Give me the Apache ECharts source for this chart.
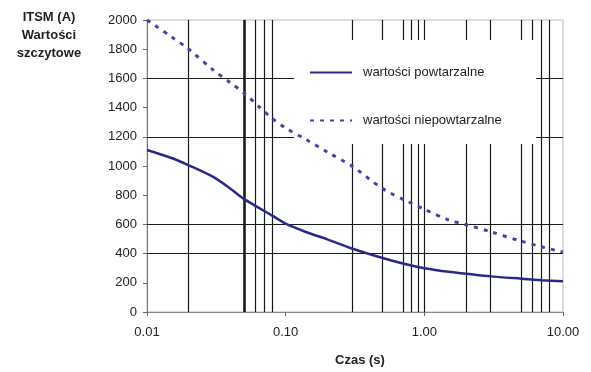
<!DOCTYPE html>
<html>
<head>
<meta charset="utf-8">
<script src="https://cdn.jsdelivr.net/npm/echarts@6/dist/echarts.min.js"></script>
<style>html,body{margin:0;padding:0;background:#fff}#c{width:591px;height:372px}</style>
</head>
<body>
<div id="c"></div>
<script>
var times = [0.01, 0.015, 0.02, 0.03, 0.04, 0.05, 0.065, 0.08, 0.1, 0.14, 0.2, 0.3, 0.5, 0.75, 1, 1.5, 2, 3, 5, 7, 10];
var repetitive = [1110, 1055, 1005, 925, 844, 775, 710, 660, 605, 548, 497, 435, 370, 325, 300, 275, 262, 244, 228, 218, 210];
var nonRepetitive = [2000, 1885, 1800, 1658, 1570, 1500, 1402, 1325, 1260, 1182, 1095, 1000, 845, 759, 704, 630, 598, 550, 485, 447, 410];
var seriesNames = ['wartości powtarzalne', 'wartości niepowtarzalne'];
var vGrid = [0.02, 0.05, 0.06, 0.07, 0.08, 0.3, 0.5, 0.7, 0.8, 0.9, 1, 2, 3, 5, 6, 7, 8];
var hGrid = [400, 600, 1200, 1600];
var xTitle = 'Czas (s)';
var yTitle = 'ITSM (A)\nWartości\nszczytowe';

function pairs(xs, ys) { return xs.map(function (x, i) { return [x, ys[i]]; }); }

var chart = echarts.init(document.getElementById('c'), null, {renderer: 'canvas'});
var font = '"Liberation Sans", Arial, sans-serif';
var gridData = vGrid.map(function (v) {
  return {xAxis: v, lineStyle: {width: v === 0.05 ? 2.6 : 1.2}};
}).concat(hGrid.map(function (v) { return {yAxis: v}; }));

chart.setOption({
  animation: false,
  textStyle: {fontFamily: font},
  grid: {left: 147, right: 28, top: 20, bottom: 51, show: true, borderColor: '#b8b8b8', borderWidth: 1},
  graphic: [
    {type: 'rect', shape: {x: 294, y: 40, width: 242, height: 104}, style: {fill: '#fff'}, z: 2},
    {type: 'text', x: 49, y: 8, z: 5, style: {text: yTitle, font: 'bold 13px ' + font, fill: '#222', align: 'center', verticalAlign: 'top', lineHeight: 18}}
  ],
  legend: {
    orient: 'vertical', left: 304, top: 61, itemGap: 35, itemWidth: 42, itemHeight: 14, z: 6,
    itemStyle: {opacity: 0},
    data: seriesNames, textStyle: {fontSize: 13, color: '#222', padding: [0, 0, 0, 6]}
  },
  xAxis: {
    type: 'log', logBase: 10, min: 0.01, max: 10,
    name: xTitle, nameLocation: 'middle', nameGap: 42,
    nameTextStyle: {fontWeight: 'bold', fontSize: 13, color: '#222', padding: [0, 0, 0, 10]},
    axisLine: {lineStyle: {color: '#888', width: 1}},
    axisTick: {show: true, length: 4, lineStyle: {color: '#666'}},
    minorTick: {show: false}, splitLine: {show: false},
    axisLabel: {fontSize: 13, color: '#222', margin: 14, formatter: function (v) { return Number(v).toFixed(2); }}
  },
  yAxis: {
    type: 'value', min: 0, max: 2000, interval: 200,
    axisLine: {show: true, lineStyle: {color: '#777', width: 1}},
    axisTick: {show: true, length: 4, lineStyle: {color: '#666'}},
    splitLine: {show: false},
    axisLabel: {fontSize: 13, color: '#222', margin: 10, formatter: function (v) { return String(v); }}
  },
  series: [
    {
      name: 'grid', type: 'line', data: [], z: 1, silent: true,
      markLine: {silent: true, z: 1, symbol: 'none', label: {show: false}, animation: false,
        lineStyle: {color: '#1a1a1a', type: 'solid', width: 1.2}, data: gridData}
    },
    {
      name: seriesNames[0], type: 'line', z: 3, data: pairs(times, repetitive),
      symbol: 'none', smooth: 0.3, color: '#2a2a86',
      lineStyle: {color: '#2a2a86', width: 2.5}
    },
    {
      name: seriesNames[1], type: 'line', z: 3, data: pairs(times, nonRepetitive),
      symbol: 'none', smooth: 0.3, color: '#4444a4',
      lineStyle: {color: '#4444a4', width: 3, type: [4, 6]}
    }
  ]
});
</script>
</body>
</html>
